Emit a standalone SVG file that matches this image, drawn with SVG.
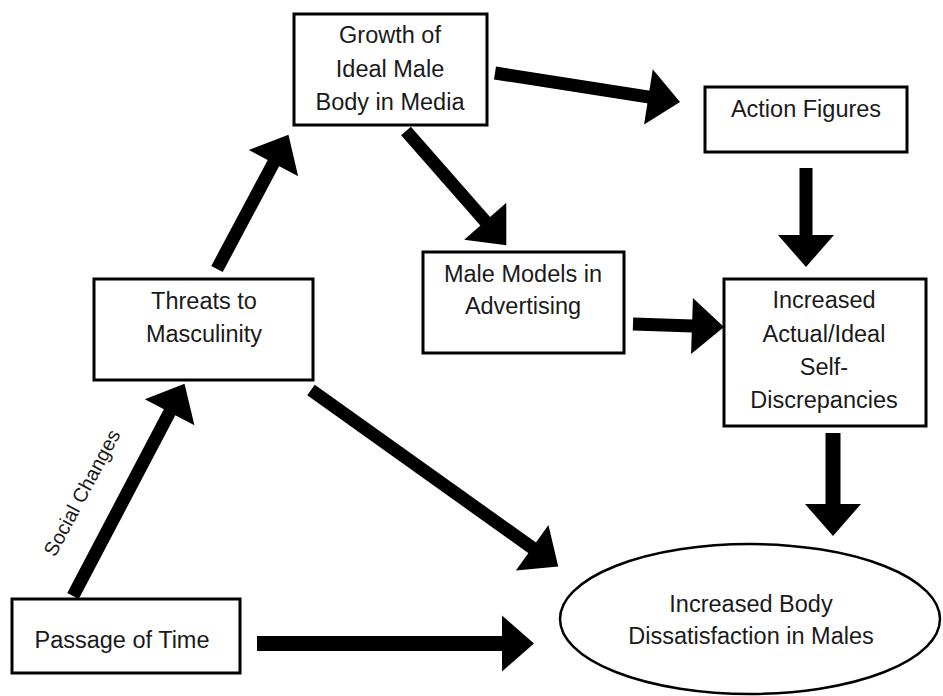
<svg xmlns="http://www.w3.org/2000/svg" width="943" height="696" viewBox="0 0 943 696">
<defs>
<marker id="head" markerUnits="userSpaceOnUse" markerWidth="34" markerHeight="60" refX="1" refY="30" orient="auto" overflow="visible">
<path d="M0,2 L32,30 L0,58 Z" fill="#000"/>
</marker>
<style>
.box{fill:#fff;stroke:#000;stroke-width:3}
.lbl{font-family:"Liberation Sans",Arial,sans-serif;font-size:23.5px;fill:#1a1a1a;text-anchor:middle}
.arr{stroke:#000;stroke-width:13;fill:none;stroke-linecap:butt;marker-end:url(#head)}
.thick{stroke-width:15}
</style>
</defs>
<rect width="943" height="696" fill="#fff"/>
<g id="connectors">
<line class="arr" x1="495" y1="73" x2="649.4" y2="97.1"/>
<line class="arr" x1="217" y1="269" x2="273.9" y2="162.2"/>
<line class="arr" x1="406" y1="131" x2="485.9" y2="222"/>
<line class="arr" x1="806" y1="168" x2="806" y2="236"/>
<line class="arr" x1="633" y1="324" x2="693" y2="326"/>
<line class="arr" x1="311" y1="390" x2="533" y2="548.4"/>
<line class="arr thick" x1="257" y1="643.5" x2="503" y2="643.5"/>
<line class="arr thick" x1="833" y1="433" x2="833" y2="505"/>
<line class="arr" x1="73" y1="596" x2="170.1" y2="411.3"/>
<text class="lbl" style="font-size:20px" transform="translate(88,496) rotate(-62)">Social Changes</text>
</g>
<g id="growth">
<rect class="box" x="294" y="14" width="193" height="111"/>
<text class="lbl" x="390" y="43">Growth of</text>
<text class="lbl" x="390" y="77">Ideal Male</text>
<text class="lbl" x="390" y="110">Body in Media</text>
</g>
<g id="action">
<rect class="box" x="705" y="87" width="202" height="65"/>
<text class="lbl" x="806" y="117">Action Figures</text>
</g>
<g id="models">
<rect class="box" x="423" y="252" width="201" height="101"/>
<text class="lbl" x="523" y="282">Male Models in</text>
<text class="lbl" x="523" y="314">Advertising</text>
</g>
<g id="threats">
<rect class="box" x="94" y="279" width="219" height="101"/>
<text class="lbl" x="204" y="309">Threats to</text>
<text class="lbl" x="204" y="342">Masculinity</text>
</g>
<g id="discrepancies">
<rect class="box" x="724" y="279" width="202" height="147"/>
<text class="lbl" x="824" y="308">Increased</text>
<text class="lbl" x="824" y="342">Actual/Ideal</text>
<text class="lbl" x="824" y="375">Self-</text>
<text class="lbl" x="824" y="408">Discrepancies</text>
</g>
<g id="passage">
<rect class="box" x="12" y="599" width="228" height="74"/>
<text class="lbl" x="122" y="648">Passage of Time</text>
</g>
<g id="dissatisfaction">
<ellipse cx="750" cy="619" rx="190" ry="75" fill="#fff" stroke="#000" stroke-width="2.5"/>
<text class="lbl" x="751" y="612">Increased Body</text>
<text class="lbl" x="751" y="644">Dissatisfaction in Males</text>
</g>
</svg>
